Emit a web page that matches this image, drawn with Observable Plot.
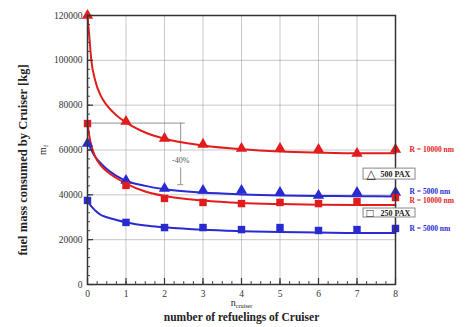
<!DOCTYPE html>
<html><head><meta charset="utf-8">
<script src="https://cdn.jsdelivr.net/npm/d3@7"></script>
<script src="https://cdn.jsdelivr.net/npm/@observablehq/plot@0.6"></script>
<style>body{margin:0;background:#fff}</style>
</head><body><div id="chart"></div>
<script>
// ---- data ----
const refuelings = [0, 1, 2, 3, 4, 5, 6, 7, 8];
const pax500_R10000 = [120000, 72700, 65100, 62500, 60700, 60700, 60200, 58400, 60200];
const pax500_R5000  = [62900, 46400, 42800, 41900, 41900, 41000, 39700, 41000, 41000];
const pax250_R10000 = [71800, 44200, 38400, 36600, 36100, 36600, 36100, 37000, 38800];
const pax250_R5000  = [37500, 27700, 25400, 25400, 24500, 25400, 24100, 24500, 25000];

const fitN = [0, 0.05, 0.1, 0.2, 0.35, 0.5, 0.75, 1, 1.5, 2, 3, 4, 5, 6, 7, 8];
const fit500_R10000 = [120000, 110000, 100000, 91000, 84000, 80000, 75500, 72300, 67800, 65000, 62000, 60300, 59300, 58800, 58500, 58500];
const fit500_R5000  = [64000, 62000, 60000, 57000, 54000, 51500, 48500, 46300, 44000, 42500, 41000, 40200, 39700, 39500, 39400, 39300];
const fit250_R10000 = [72000, 66000, 62000, 57000, 53000, 50500, 47500, 45000, 41500, 39500, 37500, 36400, 35900, 35600, 35500, 35500];
const fit250_R5000  = [37500, 36000, 34800, 33000, 31000, 30000, 28800, 27800, 26300, 25500, 24400, 23800, 23400, 23200, 23000, 23000];

const seriesNames = ["500 PAX, R=10000 nm", "500 PAX, R=5000 nm", "250 PAX, R=10000 nm", "250 PAX, R=5000 nm"];
const seriesColors = ["#e21c1c", "#2a2ad2", "#e21c1c", "#2a2ad2"];
const seriesSymbols = ["triangle", "triangle", "square", "square"];
const rightLabels = ["R = 10000 nm", "R = 5000 nm", "R = 10000 nm", "R = 5000 nm"];
const rightLabelY = [60200, 41600, 37600, 25000];

const yTicks = [0, 20000, 40000, 60000, 80000, 100000, 120000];
const xTicks = [0, 1, 2, 3, 4, 5, 6, 7, 8];

// annotation (-40%)
const annotLevel = [72000, 44500];
const annotX = 2.42;
const annotText = "-40%";
const annotTextY = 55500;

// legend boxes
const boxSymbols = ["△", "□"];
const boxLabels = ["500 PAX", "250 PAX"];
const boxX = [7.17, 8.52];
const boxY = [[51700, 46800], [33900, 29900]];

// ---- tables ----
const values = [pax500_R10000, pax500_R5000, pax250_R10000, pax250_R5000];
const fits = [fit500_R10000, fit500_R5000, fit250_R10000, fit250_R5000];
const points = [], curves = [];
seriesNames.forEach((s, i) => {
  refuelings.forEach((n, j) => points.push({s, n, y: values[i][j], color: seriesColors[i], symbol: seriesSymbols[i]}));
  fitN.forEach((n, j) => curves.push({s, n, y: fits[i][j], color: seriesColors[i]}));
});
const labelRows = rightLabels.map((t, i) => ({t, y: rightLabelY[i], color: seriesColors[i]}));
const boxes = boxLabels.map((t, i) => ({t, sym: boxSymbols[i], x1: boxX[0], x2: boxX[1], y1: boxY[i][0], y2: boxY[i][1], ym: (boxY[i][0] + boxY[i][1]) / 2}));
const yMinor = d3.range(0, 120001, 4000);
const xMinor = d3.range(0, 8.001, 0.25);

const serif = "Liberation Serif, DejaVu Serif, serif";

const chart = Plot.plot({
  width: 467, height: 327,
  marginLeft: 87, marginRight: 72, marginTop: 15, marginBottom: 43,
  style: {fontFamily: serif, background: "#fff"},
  x: {domain: [0, 8]},
  y: {domain: [0, 120000]},
  marks: [
    Plot.gridY(yTicks, {stroke: "#888", strokeOpacity: 0.45, strokeWidth: 1}),
    Plot.gridX(xTicks, {stroke: "#888", strokeOpacity: 0.45, strokeWidth: 1}),
    // annotation lines
    Plot.ruleY([annotLevel[0]], {x1: 0, x2: annotX + 0.12, stroke: "#777", strokeWidth: 0.8}),
    Plot.ruleX([annotX], {y1: annotLevel[0], y2: annotTextY + 3500, stroke: "#777", strokeWidth: 0.8}),
    Plot.ruleX([annotX], {y1: annotTextY - 3500, y2: annotLevel[1], stroke: "#777", strokeWidth: 0.8}),
    Plot.ruleY([annotLevel[1]], {x1: annotX - 0.08, x2: annotX + 0.08, stroke: "#777", strokeWidth: 0.8}),
    Plot.text([annotText], {x: annotX, y: annotTextY, text: d => d, fontSize: 8, fill: "#555"}),
    // curves
    Plot.line(curves, {x: "n", y: "y", z: "s", stroke: "color", strokeWidth: 2, curve: "monotone-x"}),
    Plot.dot(points, {x: "n", y: "y", symbol: "symbol", fill: "color", r: 4.2}),
    // frame and axes
    Plot.frame({stroke: "#333", strokeWidth: 1.5}),
    Plot.axisY(yMinor, {tickSize: -3, tickFormat: () => "", stroke: "#444"}),
    Plot.axisY(yTicks, {tickSize: -6, tickFormat: () => "", stroke: "#333", strokeWidth: 1.2}),
    Plot.axisY(yTicks, {tickSize: 0, tickPadding: 5, tickFormat: d => String(d), fontSize: 9.5, label: null, fill: "#333"}),
    Plot.axisX(xMinor, {tickSize: -3, tickFormat: () => "", stroke: "#444"}),
    Plot.axisX(xTicks, {tickSize: -6, tickFormat: () => "", stroke: "#333", strokeWidth: 1.2}),
    Plot.axisX(xTicks, {tickSize: 0, tickPadding: 6, tickFormat: d => String(d), fontSize: 9.5, label: null, fill: "#333"}),
    // right labels
    Plot.text(labelRows, {x: () => 8, y: "y", text: "t", fill: "color", dx: 14, textAnchor: "start", fontSize: 7.5, fontWeight: "bold"}),
    // legend boxes
    Plot.rect(boxes, {x1: "x1", x2: "x2", y1: "y1", y2: "y2", fill: "white", stroke: "#888", strokeWidth: 1}),
    Plot.text(boxes, {x: "x1", y: "ym", text: "sym", dx: 3, textAnchor: "start", fontSize: 12, fill: "#222"}),
    Plot.text(boxes, {x: "x1", y: "ym", text: "t", dx: 17, textAnchor: "start", fontSize: 8, fontWeight: "bold", fill: "#222"}),
    // axis titles
    Plot.text(["fuel mass consumed by Cruiser [kg]"], {frameAnchor: "left", textAnchor: "middle", dx: -65, dy: 10, rotate: -90, text: d => d, fontSize: 12.5, fontWeight: "bold", fill: "#222"}),
    Plot.text(["m_f"], {frameAnchor: "left", textAnchor: "middle", dx: -45, rotate: -90, text: d => d, fontSize: 10, fill: "#222"}),
    Plot.text(["n_cruiser"], {frameAnchor: "bottom", dy: 21, text: d => d, fontSize: 10, fill: "#222"}),
    Plot.text(["number of refuelings of Cruiser"], {frameAnchor: "bottom", dy: 36, text: d => d, fontSize: 11.5, fontWeight: "bold", fill: "#222"})
  ]
});

// subscripts
chart.querySelectorAll("text").forEach(t => {
  const c = t.textContent;
  if (c === "m_f" || c === "n_cruiser") {
    const [base, sub] = c.split("_");
    t.textContent = base;
    const ts = document.createElementNS("http://www.w3.org/2000/svg", "tspan");
    ts.setAttribute("font-size", "6");
    ts.setAttribute("dy", "2");
    ts.textContent = sub;
    t.appendChild(ts);
  }
});
document.getElementById("chart").appendChild(chart);
</script>
</body></html>
